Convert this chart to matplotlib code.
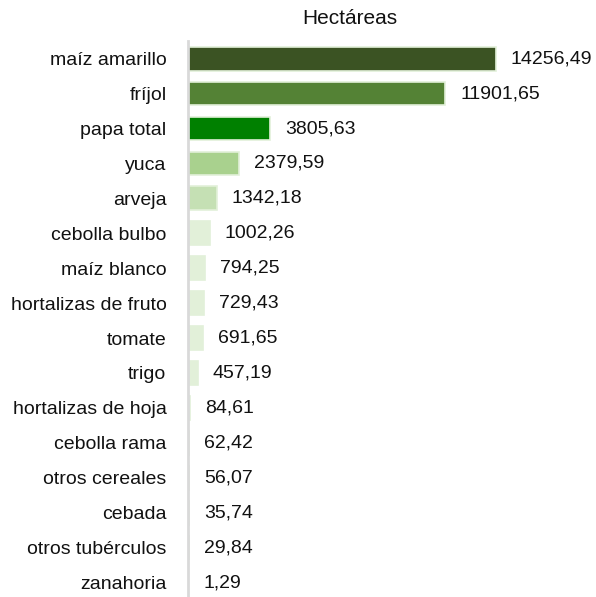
import matplotlib
matplotlib.use("Agg")
import matplotlib.pyplot as plt

categories = ["maíz amarillo", "fríjol", "papa total", "yuca", "arveja", "cebolla bulbo",
              "maíz blanco", "hortalizas de fruto", "tomate", "trigo", "hortalizas de hoja",
              "cebolla rama", "otros cereales", "cebada", "otros tubérculos", "zanahoria"]
values = [14256.49, 11901.65, 3805.63, 2379.59, 1342.18, 1002.26, 794.25, 729.43,
          691.65, 457.19, 84.61, 62.42, 56.07, 35.74, 29.84, 1.29]
labels = ["14256,49", "11901,65", "3805,63", "2379,59", "1342,18", "1002,26", "794,25",
          "729,43", "691,65", "457,19", "84,61", "62,42", "56,07", "35,74", "29,84", "1,29"]
colors = ["#3B5323", "#548235", "#008000", "#A9D18E", "#C5E0B4"] + ["#E2F0D9"] * 11
title = "Hectáreas"

plt.rcParams["font.family"] = ["Liberation Sans", "DejaVu Sans"]

fig = plt.figure(figsize=(5.96, 5.97), dpi=100)
ax = fig.add_axes([188 / 596, -0.005, 408 / 596, 0.936])
y = list(range(len(categories)))
ax.barh(y, values, height=0.68, color=colors, edgecolor="#E2F0D9", linewidth=1.2, zorder=2)
ax.set_ylim(15.5, -0.5)
ax.set_xlim(0, 18890)
for yi, v, lab in zip(y, values, labels):
    ax.annotate(lab, (v, yi), xytext=(15, 0), textcoords="offset pixels",
                va="center", ha="left", fontsize=14, color="#111111")
ax.set_yticks(y)
ax.set_yticklabels(categories, fontsize=14, color="#111111")
ax.tick_params(axis="y", length=0, pad=15.5)
ax.set_xticks([])
for s in ["top", "right", "bottom"]:
    ax.spines[s].set_visible(False)
ax.spines["left"].set_color("#D9D9D9")
ax.spines["left"].set_linewidth(2)
fig.text(350 / 596, 1 - 19 / 597, title, ha="center", va="center", fontsize=15, color="#111111")
fig.savefig("out.png", dpi=100)
